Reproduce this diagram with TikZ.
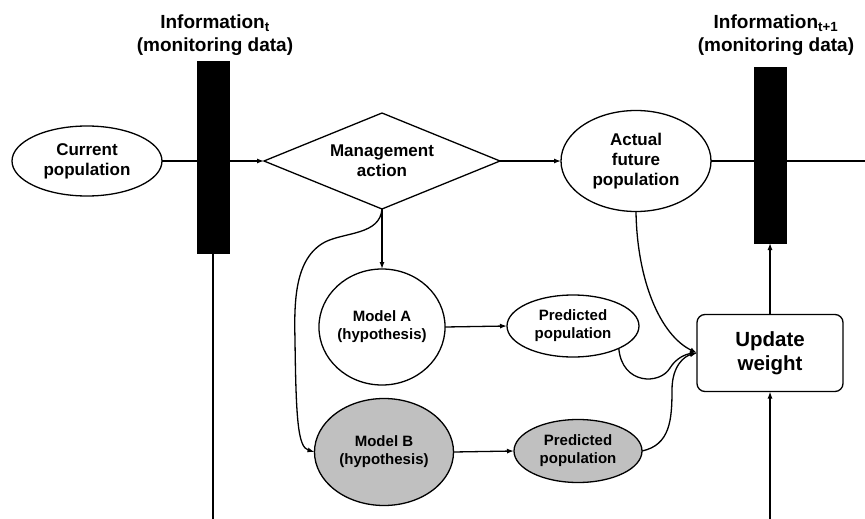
\documentclass[tikz,border=0pt]{standalone}
\usepackage{fontspec}
\setmainfont{Liberation Sans}
\usetikzlibrary{shapes.geometric,arrows.meta}
\definecolor{modelgray}{HTML}{C0C0C0}
\begin{document}
\begin{tikzpicture}[x=1pt,y=-1pt,
  every node/.style={inner sep=0pt, outer sep=0pt, align=center},
  ln/.style={line width=1.3pt},
  arr/.style={ln, -{Latex[length=7pt,width=5pt]}},
  oval/.style={ellipse, draw, line width=1.3pt, fill=white},
  bar/.style={rectangle, draw, fill=black, minimum width=32pt},
  title/.style={font=\fontsize{19}{23}\selectfont\bfseries},
  big/.style={font=\fontsize{17}{20}\selectfont\bfseries},
  small/.style={font=\fontsize{15}{18}\selectfont\bfseries},
  upd/.style={font=\fontsize{20.5}{24}\selectfont\bfseries}
]
\useasboundingbox (0,0) rectangle (865,519);

% titles
\node[title] (t1) at (215,35) {Information\textsubscript{t}\\(monitoring data)};
\node[title] (t2) at (776,35) {Information\textsubscript{t+1}\\(monitoring data)};

% bars
\node[bar, minimum height=192pt] (bar1) at (213,157) {};
\node[bar, minimum height=176pt] (bar2) at (770,155) {};

% nodes
\node[oval, big, minimum width=150pt, minimum height=70pt] (cur) at (87,161) {Current\\population};
\node[diamond, draw, line width=1.3pt, big, aspect=2.46, minimum width=236pt, minimum height=96pt] (mgmt) at (382,161) {Management\\action};
\node[oval, big, minimum width=150pt, minimum height=101pt] (act) at (636,161) {Actual\\future\\population};
\node[oval, small, minimum width=126pt, minimum height=116pt] (modA) at (382,327) {Model A\\(hypothesis)};
\node[oval, small, minimum width=132pt, minimum height=62pt] (predA) at (573,326) {Predicted\\population};
\node[oval, small, fill=modelgray, minimum width=139pt, minimum height=107pt] (modB) at (384,452) {Model B\\(hypothesis)};
\node[oval, small, fill=modelgray, minimum width=128pt, minimum height=63pt] (predB) at (578,451) {Predicted\\population};
\node[rectangle, rounded corners=8pt, draw, line width=1.3pt, upd, minimum width=146pt, minimum height=77pt] (upd) at (770,353) {Update\\weight};

\coordinate (redge) at (865,161);
\coordinate (bot1) at (213,519);
\coordinate (bot2) at (770,519);

% connectors
\draw[arr] (cur.east) -- (mgmt.west);
\draw[ln] (act.east) -- (redge);
\draw[arr] (mgmt.east) -- (act.west);
\draw[arr] (mgmt.south) -- (modA.north);
\draw[arr] (mgmt.south) .. controls (380,235) and (345,232) .. (325,242)
  .. controls (295,258) and (294,300) .. (295,340)
  .. controls (296,420) and (298,447) .. (modB.west);
\draw[arr] (modA.east) -- (predA.west);
\draw[arr] (modB.east) -- (predB.west);
\draw[arr] (act.south) .. controls (637,280) and (660,335) .. (upd.west);
\draw[arr] (predA.-26) .. controls (622,385) and (660,385) .. (670,368)
  .. controls (676,358) and (686,354) .. (upd.west);
\draw[arr] (predB.east) .. controls (670,445) and (672,420) .. (672,390)
  .. controls (672,365) and (685,356) .. (upd.west);
\draw[arr] (upd.north) -- (bar2.south);
\draw[arr] (bot2) -- (upd.south);
\draw[ln] (bar1.south) -- (bot1);
\end{tikzpicture}
\end{document}
